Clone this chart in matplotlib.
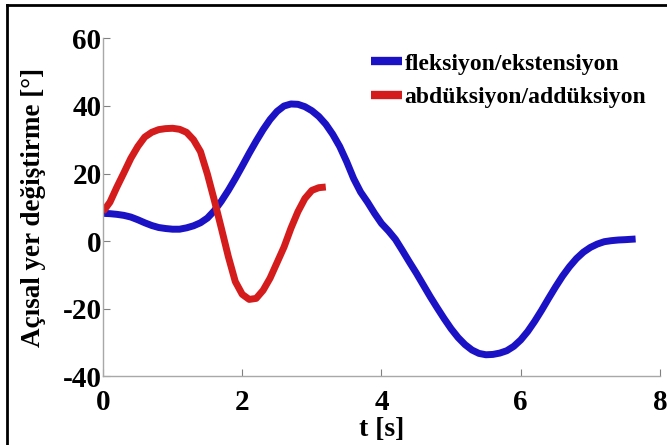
import matplotlib
matplotlib.use("Agg")
import matplotlib.pyplot as plt
from matplotlib.lines import Line2D

plt.rcParams['font.family'] = ['Liberation Serif', 'DejaVu Serif']
plt.rcParams['font.weight'] = 'bold'
plt.rcParams['axes.unicode_minus'] = False

# data
blue_t = [0, 0.1, 0.2, 0.3, 0.4, 0.5, 0.6, 0.7, 0.8, 0.9, 1.0, 1.1, 1.2, 1.3, 1.4,
          1.5, 1.6, 1.7, 1.8, 1.9, 2.0, 2.1, 2.2, 2.3, 2.4, 2.5, 2.6, 2.7, 2.8,
          2.9, 3.0, 3.1, 3.2, 3.3, 3.4, 3.5, 3.6, 3.7, 3.8, 3.9, 4.0, 4.1, 4.2,
          4.3, 4.4, 4.5, 4.6, 4.7, 4.8, 4.9, 5.0, 5.1, 5.2, 5.3, 5.4, 5.5, 5.6,
          5.7, 5.8, 5.9, 6.0, 6.1, 6.2, 6.3, 6.4, 6.5, 6.6, 6.7, 6.8, 6.9, 7.0,
          7.1, 7.2, 7.3, 7.4, 7.5, 7.65]
blue_y = [8.2, 8.1, 7.9, 7.6, 7.1, 6.3, 5.4, 4.6, 4.0, 3.7, 3.5, 3.5, 3.9, 4.5,
          5.4, 6.8, 9.0, 11.8, 15.0, 18.5, 22.2, 26.0, 29.6, 33.0, 36.0, 38.4,
          40.0, 40.6, 40.5, 39.8, 38.6, 36.9, 34.6, 31.6, 28.0, 23.5, 18.5, 14.5,
          11.5, 8.2, 5.2, 3.0, 0.5, -2.8, -6.2, -9.5, -13.0, -16.5, -19.8, -23.0,
          -26.0, -28.6, -30.7, -32.3, -33.3, -33.7, -33.6, -33.2, -32.5, -31.2,
          -29.3, -26.8, -23.8, -20.5, -17.0, -13.6, -10.4, -7.6, -5.2, -3.3, -1.9,
          -0.9, -0.2, 0.1, 0.3, 0.4, 0.6]
red_t = [0, 0.1, 0.2, 0.3, 0.4, 0.5, 0.6, 0.7, 0.8, 0.9, 1.0, 1.1, 1.2, 1.3, 1.4,
         1.5, 1.6, 1.7, 1.8, 1.9, 2.0, 2.1, 2.2, 2.3, 2.4, 2.5, 2.6, 2.7, 2.8,
         2.9, 3.0, 3.1, 3.2]
red_y = [8.7, 11.5, 16.0, 20.2, 24.5, 28.0, 30.8, 32.2, 33.0, 33.3, 33.4, 33.1,
         32.2, 30.0, 26.5, 19.8, 12.0, 3.8, -4.6, -12.0, -15.8, -17.3, -17.0,
         -14.6, -11.0, -6.4, -1.8, 3.8, 8.7, 12.6, 15.0, 15.8, 16.0]
labels = ['fleksiyon/ekstensiyon', 'abdüksiyon/addüksiyon']
xticks = [0, 2, 4, 6, 8]
yticks = [-40, -20, 0, 20, 40, 60]

fig = plt.figure(figsize=(6.67, 4.45), dpi=100)
ax = fig.add_axes([0.1544, 0.155, 0.8351, 0.7585])

ax.plot(blue_t, blue_y, color='#1a12c4', lw=5, solid_joinstyle='round',
        solid_capstyle='butt', label=labels[0])
ax.plot(red_t, red_y, color='#d41c1c', lw=5, solid_joinstyle='round',
        solid_capstyle='butt', label=labels[1])

ax.set_xlim(0, 8)
ax.set_ylim(-40, 60)
ax.set_xticks(xticks)
ax.set_yticks(yticks)
for s in ['top', 'right']:
    ax.spines[s].set_visible(False)
for s in ['left', 'bottom']:
    ax.spines[s].set_color('#a8a8a8')
    ax.spines[s].set_linewidth(1.0)
ax.tick_params(direction='in', length=5, width=0.8, color='#808080',
               labelsize=21)
ax.tick_params(axis='x', pad=9)
ax.tick_params(axis='y', pad=1)
for lab in ax.get_xticklabels() + ax.get_yticklabels():
    lab.set_fontweight('bold')

ax.set_xlabel('t [s]', fontsize=20, fontweight='bold', labelpad=1)
ax.set_ylabel('Açısal yer değiştirme [°]', fontsize=19.5, fontweight='bold',
              labelpad=12)

leg = ax.legend(loc='upper left', bbox_to_anchor=(0.465, 0.985), frameon=False,
                fontsize=17, handlelength=1.3, handletextpad=0.1,
                labelspacing=0.5, borderaxespad=0)
for t in leg.get_texts():
    t.set_fontweight('bold')
for h in leg.get_lines():
    h.set_linewidth(6)

# figure border (top and left)
fig.add_artist(Line2D([7/667, 1.0], [1 - 5/445, 1 - 5/445], color='black', lw=2,
                      transform=fig.transFigure))
fig.add_artist(Line2D([7/667, 7/667], [0, 1 - 5/445], color='black', lw=2,
                      transform=fig.transFigure))

fig.savefig('out.png', dpi=100)
